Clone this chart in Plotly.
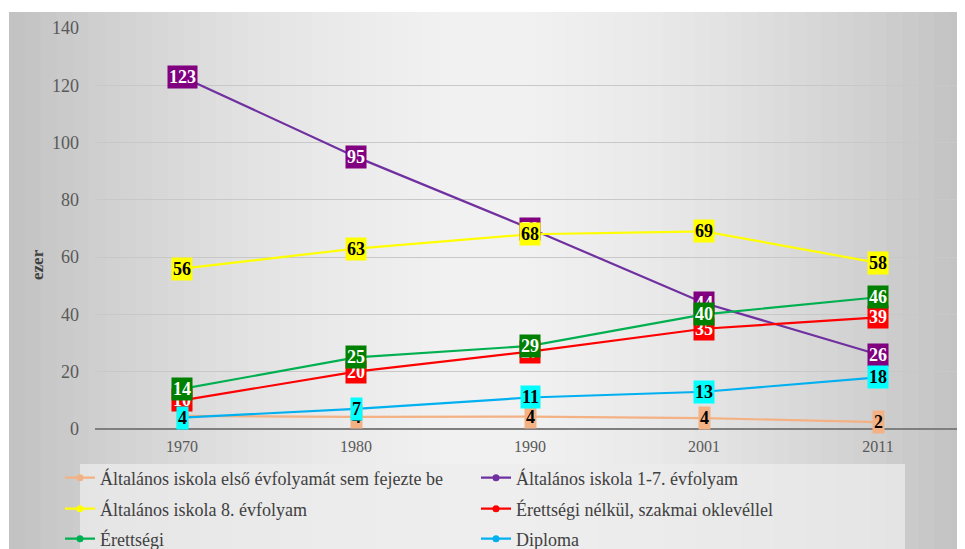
import plotly.graph_objects as go

years = ['1970', '1980', '1990', '2001', '2011']

series_names = [
    'Általános iskola első évfolyamát sem fejezte be',
    'Általános iskola 1-7. évfolyam',
    'Általános iskola 8. évfolyam',
    'Érettségi nélkül, szakmai oklevéllel',
    'Érettségi',
    'Diploma',
]
elso = [4.6, 4.2, 4.3, 3.8, 2.4]
also_1_7 = [123, 95, 70, 44, 26]
nyolc = [56, 63, 68, 69, 58]
szakmai = [10, 20, 27, 35, 39]
erettsegi = [14, 25, 29, 40, 46]
diploma = [4, 7, 11, 13, 18]

line_colors = ['#F4B183', '#7030A0', '#FFFF00', '#FF0000', '#00B050', '#00B0F0']
box_colors = ['#F4B183', '#800080', '#FFFF00', '#FF0000', '#008000', '#00FFFF']
text_colors = ['black', 'white', 'black', 'white', 'white', 'black']

all_values = [elso, also_1_7, nyolc, szakmai, erettsegi, diploma]

# page body has an 8px margin, so the figure starts at (8, 8) on screen
plot_l, plot_w = 95, 870      # screen px
plot_b, plot_h = 429, 401


def px(sx):
    return (sx - plot_l) / plot_w


def py(sy):
    return (plot_b - sy) / plot_h


fig = go.Figure()

# background gradient (light centre, darker edges)
shapes = []
n_strips = 60
for i in range(n_strips):
    a = 9 + (965 - 9) * i / n_strips
    b = 9 + (965 - 9) * (i + 1) / n_strips + 0.5
    d = abs((i + 0.5) / n_strips - 0.5) * 2
    g = int(242 - 48 * d ** 1.6)
    shapes.append(dict(type='rect', xref='paper', yref='paper', layer='below',
                       x0=px(a), x1=px(b), y0=py(549), y1=py(12), line_width=0,
                       fillcolor=f'rgb({g},{g},{g})'))
# legend panel
shapes.append(dict(type='rect', xref='paper', yref='paper', layer='below',
                   x0=px(80), x1=px(905), y0=py(549), y1=py(464), line_width=0,
                   fillcolor='rgba(236,236,236,0.75)'))

legend_ids = ['legend', 'legend', 'legend2', 'legend2', 'legend3', 'legend3']
for name, vals, lc, lg in zip(series_names, all_values, line_colors, legend_ids):
    fig.add_trace(go.Scatter(x=years, y=vals, name=name, mode='lines+markers',
                             line=dict(color=lc, width=2.2),
                             marker=dict(color=lc, size=7), legend=lg))

# data labels, drawn in series order so later series sit on top
annotations = []
for vals, bc, tc in zip(all_values, box_colors, text_colors):
    for idx, v in enumerate(vals):
        annotations.append(dict(x=idx, y=v, xref='x', yref='y', text=f'{round(v)}',
                                showarrow=False, bgcolor=bc, borderpad=1,
                                font=dict(family='Liberation Serif', size=18, color=tc, weight='bold')))

annotations.append(dict(text='ezer', xref='paper', yref='paper', x=px(37), y=py(265),
                        xanchor='center', yanchor='middle', showarrow=False, textangle=-90,
                        font=dict(family='Liberation Serif', size=17, color='#404040', weight='bold')))


def legend_row(sy):
    return dict(orientation='h', x=px(60), y=py(sy), xanchor='left', yanchor='middle',
                entrywidth=371, entrywidthmode='pixels', bgcolor='rgba(0,0,0,0)',
                itemwidth=30, font=dict(family='Liberation Serif', size=18, color='#404040'))


fig.update_layout(
    width=957, height=541,
    margin=dict(l=87, r=0, t=20, b=120, autoexpand=False),
    paper_bgcolor='white',
    plot_bgcolor='rgba(0,0,0,0)',
    shapes=shapes,
    annotations=annotations,
    showlegend=True,
    legend=legend_row(478),
    legend2=legend_row(509),
    legend3=legend_row(539),
    font=dict(family='Liberation Serif', color='#595959'),
)
fig.update_xaxes(type='category', range=[-0.5, len(years) - 0.5], showgrid=False,
                 showline=False, zeroline=False, ticklabelstandoff=6,
                 tickfont=dict(size=16, color='#595959'), ticks='')
fig.update_yaxes(range=[0, 140], dtick=20, showgrid=True, gridcolor='#C8C8C8', gridwidth=1,
                 zeroline=True, zerolinecolor='#7F7F7F', zerolinewidth=1.5,
                 tickfont=dict(size=18, color='#595959'), ticklabelstandoff=15)

fig.write_html("out.html")
